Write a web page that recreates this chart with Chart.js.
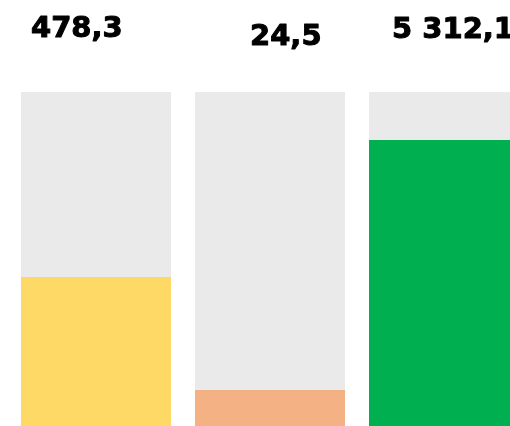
<!DOCTYPE html>
<html>
<head>
<meta charset="utf-8">
<script src="https://cdn.jsdelivr.net/npm/chart.js@4/dist/chart.umd.min.js"></script>
<style>
  html, body { margin: 0; padding: 0; background: #fff; overflow: hidden; }
  #wrap { width: 540px; height: 426px; }
</style>
</head>
<body>
<div id="wrap"><canvas id="chart" width="540" height="426"></canvas></div>
<script>
// данные
const categories = ['A', 'B', 'C'];
const values = [478.3, 24.5, 5312.1];      // подписи над столбиками
const fillPercent = [44.6, 10.8, 85.6];    // заполнение столбика, %
const fullPercent = [100, 100, 100];       // серый фон
const fillColors = ['#FFD966', '#F4B183', '#00B050'];

// 5312.1 -> "5 312,1"
const formatValue = (v) => {
  const parts = v.toFixed(1).split('.');
  parts[0] = parts[0].replace(/\B(?=(\d{3})+(?!\d))/g, ' ');
  return parts.join(',');
};

// подписи значений (смещение от левого края столбика)
const valueLabels = {
  id: 'valueLabels',
  afterDatasetsDraw(chart, args, opts) {
    const ctx = chart.ctx;
    const meta = chart.getDatasetMeta(1);
    ctx.save();
    ctx.font = 'bold 29px "DejaVu Sans"';
    ctx.fillStyle = '#000';
    ctx.strokeStyle = '#000';
    ctx.lineWidth = 1;
    ctx.lineJoin = 'round';
    ctx.textAlign = 'left';
    ctx.textBaseline = 'alphabetic';
    meta.data.forEach((bar, i) => {
      const left = bar.x - bar.width / 2;
      const txt = formatValue(values[i]);
      ctx.fillText(txt, left + opts.dx[i], opts.baseline[i]);
      ctx.strokeText(txt, left + opts.dx[i], opts.baseline[i]);
    });
    ctx.restore();
  }
};

new Chart(document.getElementById('chart'), {
  type: 'bar',
  data: {
    labels: categories,
    datasets: [
      {
        data: fillPercent,
        backgroundColor: fillColors,
        grouped: false,
        order: 0,
        borderWidth: 0,
        barPercentage: 0.862,
        categoryPercentage: 1
      },
      {
        data: fullPercent,
        backgroundColor: '#EAEAEA',
        grouped: false,
        order: 1,
        borderWidth: 0,
        barPercentage: 0.862,
        categoryPercentage: 1
      }
    ]
  },
  options: {
    responsive: false,
    animation: false,
    devicePixelRatio: 1,
    layout: { padding: { left: 9, right: 9, top: 92, bottom: 0 } },
    scales: {
      x: { display: false },
      y: { display: false, min: 0, max: 100 }
    },
    plugins: {
      legend: { display: false },
      tooltip: { enabled: false },
      valueLabels: { dx: [10, 55, 23], baseline: [37, 45, 38] }
    }
  },
  plugins: [valueLabels]
});
</script>
</body>
</html>
